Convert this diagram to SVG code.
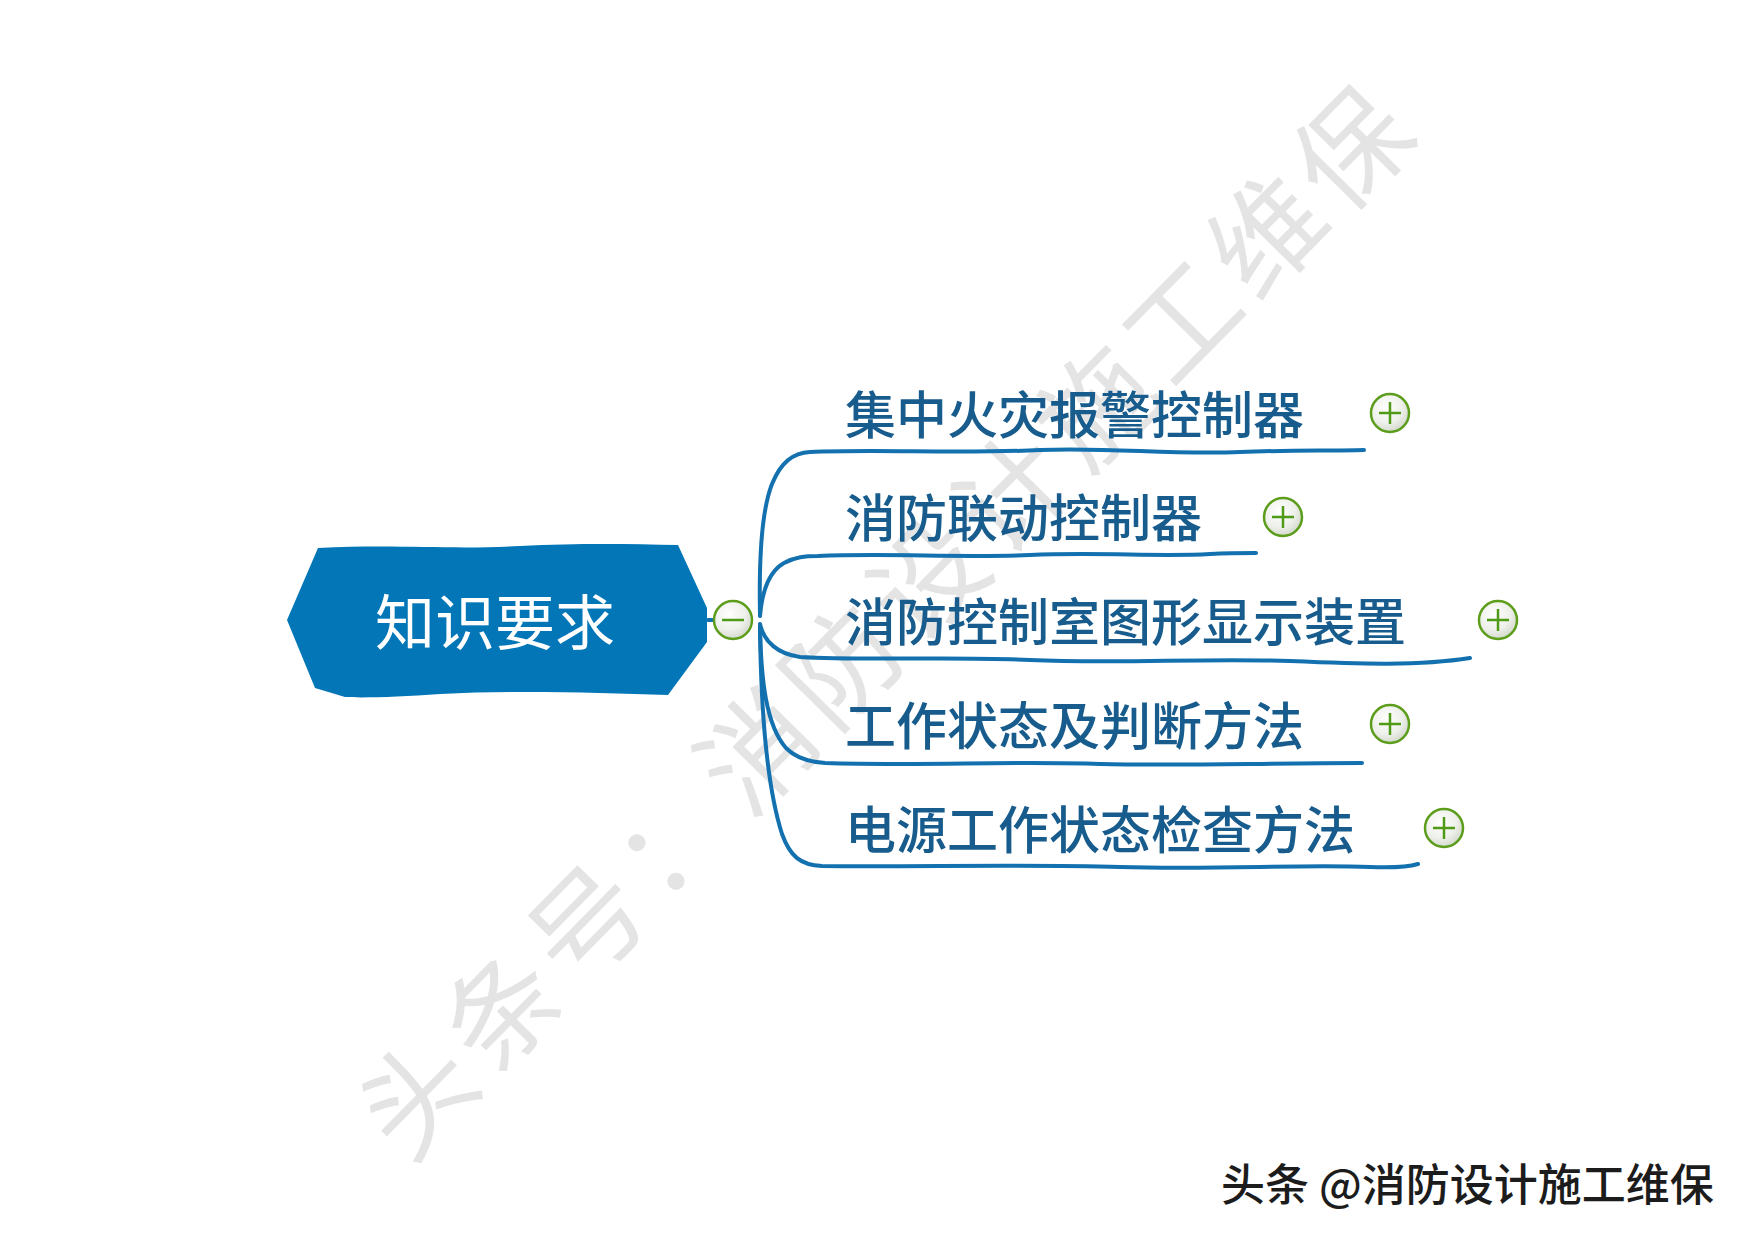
<svg xmlns="http://www.w3.org/2000/svg" width="1754" height="1240" viewBox="0 0 1754 1240">
<defs>
<radialGradient id="btn" cx="0.4" cy="0.35" r="0.7">
<stop offset="0" stop-color="#ffffff"/>
<stop offset="0.6" stop-color="#eef0ea"/>
<stop offset="1" stop-color="#cfd6c8"/>
</radialGradient>
<style>
.wm{font-family:"Noto Sans CJK SC","Noto Sans CJK JP",sans-serif;font-size:112px;fill:#e4e4e4;font-weight:400}
.branch{fill:none;stroke:#1271ae;stroke-width:4;stroke-linecap:round;stroke-linejoin:round}
.lbl{font-family:"Noto Sans CJK SC","Noto Sans CJK JP",sans-serif;font-size:51px;fill:#175c8c;font-weight:500}
.root{font-family:"Noto Sans CJK SC","Noto Sans CJK JP",sans-serif;font-size:60px;fill:#ffffff}
.tog{fill:url(#btn);stroke:#5c9d1c;stroke-width:2.5}
.sym{stroke:#4f9a17;stroke-width:2.5;fill:none}
.credit{font-family:"Noto Sans CJK SC","Noto Sans CJK JP",sans-serif;font-size:44px;fill:#1c1c1c;font-weight:500}
</style>
</defs>
<rect width="1754" height="1240" fill="#ffffff"/>
<g id="watermark">
<text class="wm" transform="translate(882,614) rotate(-45.4)" text-anchor="middle" dominant-baseline="central" letter-spacing="9">头条号：消防设计施工维保</text>
</g>
<g id="connectors">
<path class="branch" d="M708,620 L716,620"/>
<path class="branch" d="M760,614 C759,565 761,512 772,484 C781,462 793,453 810,452 C880,449 960,454 1040,450 C1110,447 1170,455 1240,452 C1290,450 1330,451 1364,450"/>
<path class="branch" d="M760,616 C762,592 768,572 784,563 C795,557 805,556 818,556 C890,553 960,558 1030,555 C1100,552 1160,557 1210,554 C1230,553 1245,553 1256,553"/>
<path class="branch" d="M760,624 C764,642 778,654 800,657 C870,661 950,656 1030,660 C1120,664 1200,658 1290,661 C1360,664 1420,666 1470,658"/>
<path class="branch" d="M760,626 C761,680 766,725 786,748 C796,758 808,762 825,763 C920,766 1010,761 1100,764 C1180,766 1260,763 1362,763"/>
<path class="branch" d="M760,628 C761,715 768,790 782,834 C790,856 800,865 822,866 C920,867 1020,864 1120,867 C1220,870 1300,864 1370,867 C1395,868 1408,867 1418,864"/>
</g>
<g id="root">
<path d="M287,620 L318,548 C400,544 450,550 520,546 C580,543 630,544 678,545 L707,608 L707,642 L668,695 C600,693 520,690 440,694 C400,697 362,698 345,697 L315,688 Z" fill="#0276b7"/>
<text class="root" x="495" y="645" text-anchor="middle">知识要求</text>
<circle class="tog" cx="733" cy="620" r="19"/>
<path class="sym" d="M722,620 H744"/>
</g>
<g id="n1">
<text class="lbl" x="845" y="434">集中火灾报警控制器</text>
<circle class="tog" cx="1390" cy="413" r="19"/>
<path class="sym" d="M1379,413 H1401 M1390,402 V424"/>
</g>
<g id="n2">
<text class="lbl" x="845" y="537">消防联动控制器</text>
<circle class="tog" cx="1283" cy="517" r="19"/>
<path class="sym" d="M1272,517 H1294 M1283,506 V528"/>
</g>
<g id="n3">
<text class="lbl" x="845" y="641">消防控制室图形显示装置</text>
<circle class="tog" cx="1498" cy="620" r="19"/>
<path class="sym" d="M1487,620 H1509 M1498,609 V631"/>
</g>
<g id="n4">
<text class="lbl" x="845" y="745">工作状态及判断方法</text>
<circle class="tog" cx="1390" cy="724" r="19"/>
<path class="sym" d="M1379,724 H1401 M1390,713 V735"/>
</g>
<g id="n5">
<text class="lbl" x="845" y="849">电源工作状态检查方法</text>
<circle class="tog" cx="1444" cy="828" r="19"/>
<path class="sym" d="M1433,828 H1455 M1444,817 V839"/>
</g>
<g id="credit">
<text class="credit" x="1221" y="1201">头条 @消防设计施工维保</text>
</g>
</svg>
